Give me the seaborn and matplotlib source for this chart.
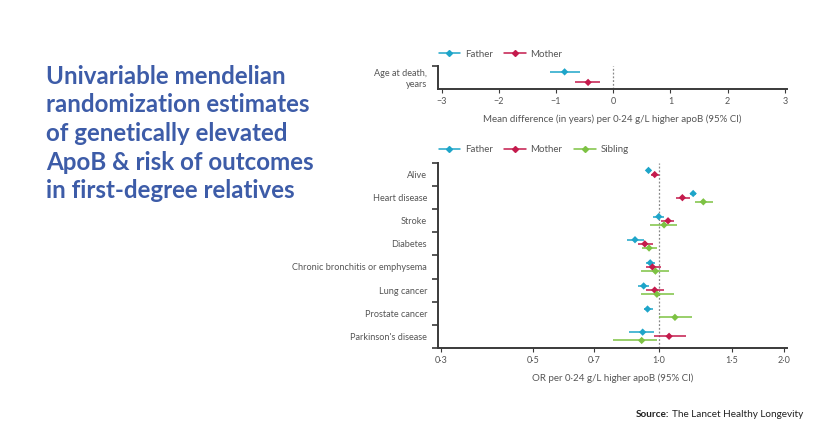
import matplotlib
matplotlib.use("Agg")
import matplotlib.pyplot as plt
from matplotlib.lines import Line2D
from matplotlib.ticker import FixedLocator, FixedFormatter
import numpy as np
import pandas as pd
import seaborn as sns

# ---- data ----
groups = ["Father", "Mother", "Sibling"]
colors = {"Father": "#1ea5c9", "Mother": "#c41a4c", "Sibling": "#7dc243"}

# top panel: age at death (mean difference, years)
age_est = [-0.85, -0.44]
age_lo = [-1.11, -0.67]
age_hi = [-0.58, -0.23]

# bottom panel: odds ratios
outcomes = ["Alive", "Heart disease", "Stroke", "Diabetes",
            "Chronic bronchitis or emphysema", "Lung cancer",
            "Prostate cancer", "Parkinson's disease"]
father_or = [0.945, 1.21, 1.00, 0.877, 0.954, 0.92, 0.94, 0.915]
father_lo = [0.93, 1.19, 0.97, 0.84, 0.93, 0.89, 0.92, 0.85]
father_hi = [0.96, 1.23, 1.03, 0.92, 0.98, 0.95, 0.97, 0.975]
mother_or = [0.978, 1.14, 1.053, 0.926, 0.966, 0.978, np.nan, 1.059]
mother_lo = [0.96, 1.10, 1.01, 0.89, 0.93, 0.93, np.nan, 0.975]
mother_hi = [1.00, 1.19, 1.09, 0.97, 1.01, 1.03, np.nan, 1.16]
sibling_or = [np.nan, 1.28, 1.03, 0.948, 0.982, 0.99, 1.094, 0.91]
sibling_lo = [np.nan, 1.22, 0.954, 0.91, 0.905, 0.905, 1.0, 0.776]
sibling_hi = [np.nan, 1.35, 1.108, 0.99, 1.059, 1.09, 1.20, 0.99]

or_ticks = [0.3, 0.5, 0.7, 1.0, 1.5, 2.0]
or_labels = ["0·3", "0·5", "0·7", "1·0", "1·5", "2·0"]
md_ticks = [-3, -2, -1, 0, 1, 2, 3]
md_labels = ["−3", "−2", "−1", "0", "1", "2", "3"]

rows = []
for g, est, lo, hi in [("Father", father_or, father_lo, father_hi),
                       ("Mother", mother_or, mother_lo, mother_hi),
                       ("Sibling", sibling_or, sibling_lo, sibling_hi)]:
    for i, name in enumerate(outcomes):
        rows.append({"group": g, "outcome": name, "idx": i,
                     "est": est[i], "lo": lo[i], "hi": hi[i]})
df = pd.DataFrame(rows).dropna()
offset = {"Father": -0.18, "Mother": 0.0, "Sibling": 0.18}
df["y"] = df["idx"] + df["group"].map(offset)

age_df = pd.DataFrame({"group": ["Father", "Mother"], "est": age_est,
                       "lo": age_lo, "hi": age_hi, "y": [0, 1]})

# ---- style ----
sns.set_theme(style="white")
plt.rcParams["font.family"] = ["Lato", "DejaVu Sans"]
spine_c = "#3a3a3a"
text_c = "#555555"

fig = plt.figure(figsize=(8.22, 4.37), dpi=100)
fig.patch.set_facecolor("white")


def style_axes(ax):
    for s in ["top", "right"]:
        ax.spines[s].set_visible(False)
    for s in ["left", "bottom"]:
        ax.spines[s].set_color(spine_c)
        ax.spines[s].set_linewidth(1.4)
    ax.tick_params(axis="x", which="major", bottom=True, direction="out",
                   length=3, width=0.8, color=spine_c, labelsize=6.5,
                   labelcolor=text_c, pad=3)
    ax.tick_params(axis="y", which="major", left=False, length=0,
                   labelsize=6.6, labelcolor=text_c, pad=8)
    ax.tick_params(axis="y", which="minor", left=True, direction="out",
                   length=4, width=1.2, color=spine_c)


def draw(ax, data):
    for g, sub in data.groupby("group"):
        ax.hlines(sub["y"], sub["lo"], sub["hi"], color=colors[g], lw=1.1, zorder=2)
    sns.scatterplot(data=data, x="est", y="y", hue="group", palette=colors,
                    marker="D", s=14, edgecolor="none", legend=False, ax=ax, zorder=3)


def legend(ax, names, y):
    handles = [Line2D([0], [0], color=colors[n], lw=1.1, marker="D",
                      markersize=3, label=n) for n in names]
    ax.legend(handles=handles, loc="lower left", bbox_to_anchor=(-0.01, y),
              ncol=len(names), frameon=False, fontsize=7, handlelength=2.2,
              handletextpad=0.5, columnspacing=1.2, labelcolor=text_c,
              borderaxespad=0)


# top panel
ax1 = fig.add_axes([0.533, 0.797, 0.424, 0.053])
draw(ax1, age_df)
ax1.axvline(0, color="#888888", ls=(0, (1.5, 1.5)), lw=0.9, zorder=1)
ax1.set_xlim(-3.06, 3.03)
ax1.set_ylim(1.6, -0.6)
ax1.set_xticks(md_ticks)
ax1.set_xticklabels(md_labels)
ax1.yaxis.set_major_locator(FixedLocator([0.5]))
ax1.yaxis.set_major_formatter(FixedFormatter(["Age at death,\nyears"]))
ax1.yaxis.set_minor_locator(FixedLocator([-0.6]))
ax1.set_xlabel("Mean difference (in years) per 0·24 g/L higher apoB (95% CI)",
               fontsize=7, color=text_c, labelpad=6)
ax1.set_ylabel("")
style_axes(ax1)
for lab in ax1.get_yticklabels():
    lab.set_horizontalalignment("right")
legend(ax1, ["Father", "Mother"], 1.12)

# bottom panel
ax2 = fig.add_axes([0.533, 0.204, 0.424, 0.423])
draw(ax2, df)
ax2.axvline(1.0, color="#888888", ls=(0, (1.5, 1.5)), lw=0.9, zorder=1)
ax2.set_xscale("log")
ax2.set_xlim(0.295, 2.03)
ax2.set_ylim(7.5, -0.5)
ax2.xaxis.set_major_locator(FixedLocator(or_ticks))
ax2.xaxis.set_major_formatter(FixedFormatter(or_labels))
ax2.xaxis.set_minor_locator(FixedLocator([]))
ax2.yaxis.set_major_locator(FixedLocator(list(range(len(outcomes)))))
ax2.yaxis.set_major_formatter(FixedFormatter(outcomes))
ax2.yaxis.set_minor_locator(FixedLocator([i + 0.5 for i in range(-1, len(outcomes))]))
ax2.set_xlabel("OR per 0·24 g/L higher apoB (95% CI)", fontsize=7,
               color=text_c, labelpad=6)
ax2.set_ylabel("")
style_axes(ax2)
legend(ax2, ["Father", "Mother", "Sibling"], 1.025)

# title and source
fig.text(0.056, 0.852, "Univariable mendelian\nrandomization estimates\n"
         "of genetically elevated\nApoB & risk of outcomes\nin first-degree relatives",
         fontsize=17.4, fontweight="bold", color="#3d5ca8", va="top", ha="left",
         linespacing=1.3)
fig.text(0.773, 0.052, "Source:", fontsize=7.2, fontweight="bold",
         color="#222222", ha="left", va="center")
fig.text(0.818, 0.052, "The Lancet Healthy Longevity", fontsize=7.2,
         color="#222222", ha="left", va="center")

fig.savefig("out.png", dpi=100)
plt.close(fig)
